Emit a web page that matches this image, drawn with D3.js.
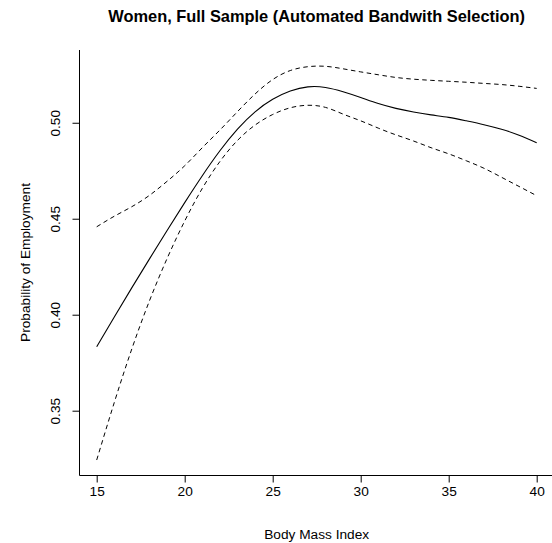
<!DOCTYPE html>
<html>
<head>
<meta charset="utf-8">
<script src="https://cdn.jsdelivr.net/npm/d3@7"></script>
<style>
  html, body { margin: 0; padding: 0; background: #fff; }
  svg { display: block; font-family: "Liberation Sans", Arial, Helvetica, sans-serif; }
</style>
</head>
<body>
<svg id="chart" width="552" height="543"></svg>
<script>
// ---- data ----
const bmi = [15,16,17,18,19,20,21,22,23,24,25,26,27,28,29,30,31,32,33,34,35,36,37,38,39,40];
const fit = [0.3833,0.3988,0.4141,0.4291,0.4439,0.4584,0.4724,0.4854,0.4967,0.5057,0.5122,0.5165,0.5187,0.5184,0.5162,0.5132,0.5100,0.5075,0.5056,0.5041,0.5028,0.5010,0.4990,0.4966,0.4935,0.4896];
const upper = [0.4458,0.4513,0.4563,0.4622,0.4695,0.4776,0.4870,0.4962,0.5058,0.5150,0.5225,0.5272,0.5292,0.5294,0.5281,0.5265,0.5250,0.5236,0.5227,0.5221,0.5216,0.5211,0.5205,0.5199,0.5190,0.5179];
const lower = [0.3243,0.3543,0.3823,0.4073,0.4293,0.4488,0.4658,0.4798,0.4908,0.4988,0.5043,0.5078,0.5091,0.5080,0.5045,0.5010,0.4972,0.4937,0.4905,0.4870,0.4838,0.4802,0.4763,0.4716,0.4668,0.4620];
const xTicks = [15,20,25,30,35,40];
const yTicks = [0.35,0.40,0.45,0.50];
const title = "Women, Full Sample (Automated Bandwith Selection)";
const xLabel = "Body Mass Index";
const yLabel = "Probability of Employment";

// ---- layout ----
const svg = d3.select("#chart");
const pL = 79, pR = 554.3, pT = 50, pB = 475;
const x = d3.scaleLinear().domain([14, 41]).range([79.1, 554.3]);
const y = d3.scaleLinear().domain([0.3165, 0.5379]).range([pB, pT]);

// box (L shape)
svg.append("path")
  .attr("d", `M${pL+0.5},${pT}V${pB+0.5}H${pR}`)
  .attr("fill", "none").attr("stroke", "#000").attr("stroke-width", 1);

// x axis
const gx = svg.append("g").attr("transform", `translate(0,${pB+0.5})`)
  .call(d3.axisBottom(x).tickValues(xTicks).tickSize(7).tickPadding(3.5).tickFormat(d3.format("d")));
gx.select(".domain").remove();
gx.selectAll("line").attr("stroke", "#000");
gx.selectAll("text").attr("font-size", "13.7px").attr("fill", "#000");
gx.attr("font-family", null).attr("font-size", null);

// y axis
const gy = svg.append("g").attr("transform", `translate(${pL+0.5},0)`)
  .call(d3.axisLeft(y).tickValues(yTicks).tickSize(7).tickFormat(d3.format(".2f")));
gy.select(".domain").remove();
gy.selectAll("line").attr("stroke", "#000");
gy.selectAll("text")
  .attr("transform", "rotate(-90)")
  .attr("x", 0).attr("y", -19.5).attr("dy", null)
  .attr("text-anchor", "middle")
  .attr("font-size", "13.7px").attr("fill", "#000");
gy.attr("font-family", null).attr("font-size", null);

// lines
const line = d3.line().x((d, i) => x(bmi[i])).y(d => y(d)).curve(d3.curveNatural);
svg.append("path").datum(upper).attr("d", line)
  .attr("fill", "none").attr("stroke", "#000").attr("stroke-width", 1).attr("stroke-dasharray", "4.5,3.5");
svg.append("path").datum(lower).attr("d", line)
  .attr("fill", "none").attr("stroke", "#000").attr("stroke-width", 1).attr("stroke-dasharray", "4.5,3.5");
svg.append("path").datum(fit).attr("d", line)
  .attr("fill", "none").attr("stroke", "#000").attr("stroke-width", 1.1);

// titles
svg.append("text").attr("x", (pL + pR) / 2).attr("y", 21.5)
  .attr("text-anchor", "middle").attr("font-weight", "bold").attr("font-size", "16.4px")
  .text(title);
svg.append("text").attr("x", (pL + pR) / 2).attr("y", 539)
  .attr("text-anchor", "middle").attr("font-size", "13.7px").text(xLabel);
svg.append("text").attr("transform", `translate(30,${(pT + pB) / 2}) rotate(-90)`)
  .attr("text-anchor", "middle").attr("font-size", "13.7px").text(yLabel);
</script>
</body>
</html>
